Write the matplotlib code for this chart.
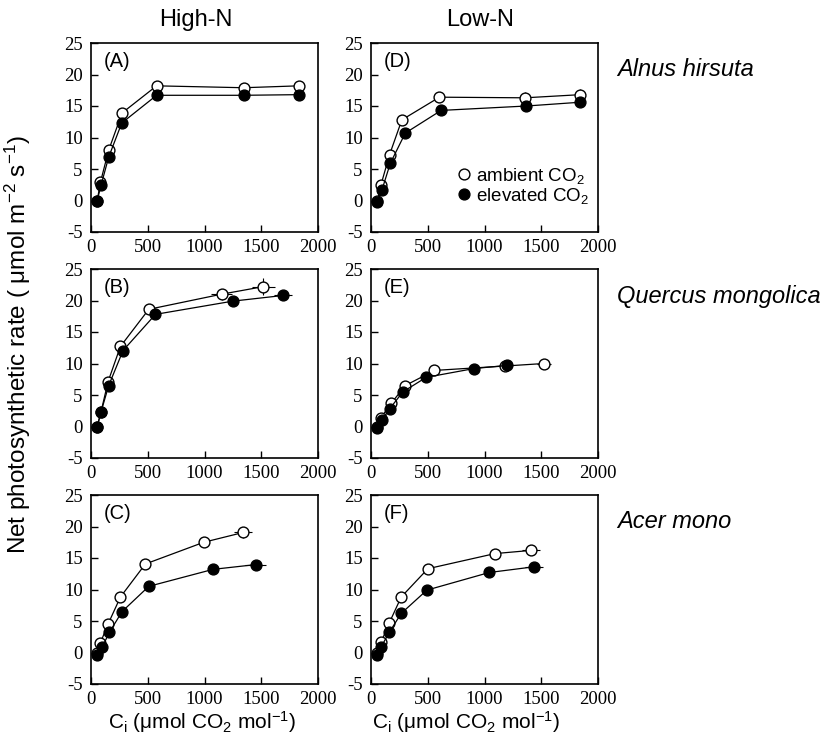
import matplotlib
matplotlib.use("Agg")
import matplotlib.pyplot as plt
from matplotlib.lines import Line2D

plt.rcParams['axes.unicode_minus'] = False
plt.rcParams['mathtext.fontset'] = 'custom'
plt.rcParams['mathtext.rm'] = 'Liberation Sans'
plt.rcParams['mathtext.it'] = 'Liberation Sans:italic'
plt.rcParams['mathtext.default'] = 'regular'
plt.rcParams['font.family'] = ['Liberation Sans', 'DejaVu Sans']

# ---- data (Ci, umol CO2 mol-1 ; A, umol m-2 s-1) ----
# Panel A: Alnus hirsuta, High-N
A_amb_ci = [55, 83, 156, 274, 578, 1345, 1829]
A_amb_a = [0.0, 2.9, 8.0, 13.9, 18.2, 17.9, 18.2]
A_amb_yerr = [0.2, 0.3, 0.3, 0.4, 0.5, 0.8, 0.6]
A_amb_xerr = [2, 5, 8, 10, 15, 30, 30]
A_ele_ci = [53, 88, 156, 271, 578, 1345, 1829]
A_ele_a = [-0.1, 2.4, 6.9, 12.3, 16.7, 16.7, 16.8]
A_ele_yerr = [0.2, 0.3, 0.3, 0.4, 0.4, 0.4, 0.6]
A_ele_xerr = [2, 5, 8, 10, 15, 30, 30]

# Panel D: Alnus hirsuta, Low-N
D_amb_ci = [55, 88, 164, 272, 603, 1356, 1845]
D_amb_a = [-0.1, 2.5, 7.3, 12.8, 16.4, 16.3, 16.8]
D_amb_yerr = [0.2, 0.3, 0.3, 0.4, 0.7, 0.9, 0.9]
D_amb_xerr = [2, 5, 8, 10, 15, 30, 30]
D_ele_ci = [53, 97, 170, 302, 618, 1370, 1845]
D_ele_a = [-0.3, 1.7, 5.9, 10.7, 14.3, 15.0, 15.6]
D_ele_yerr = [0.2, 0.3, 0.3, 0.4, 0.4, 0.4, 0.5]
D_ele_xerr = [2, 5, 8, 10, 15, 30, 30]

# Panel B: Quercus mongolica, High-N
B_amb_ci = [55, 88, 150, 259, 509, 1150, 1518]
B_amb_a = [0.0, 2.3, 7.1, 12.7, 18.6, 21.0, 22.2]
B_amb_yerr = [0.2, 0.3, 0.3, 0.4, 0.8, 0.9, 1.4]
B_amb_xerr = [2, 5, 8, 10, 20, 90, 100]
B_ele_ci = [53, 88, 156, 282, 568, 1250, 1694]
B_ele_a = [-0.1, 2.3, 6.5, 12.05, 17.8, 19.9, 20.8]
B_ele_yerr = [0.2, 0.3, 0.3, 0.4, 0.4, 0.4, 0.4]
B_ele_xerr = [2, 5, 8, 10, 15, 40, 80]

# Panel E: Quercus mongolica, Low-N
E_amb_ci = [55, 88, 179, 302, 559, 1180, 1526]
E_amb_a = [-0.1, 1.4, 3.7, 6.5, 8.9, 9.6, 10.0]
E_amb_yerr = [0.2, 0.2, 0.3, 0.3, 0.4, 0.4, 0.4]
E_amb_xerr = [2, 5, 8, 10, 15, 40, 60]
E_ele_ci = [53, 97, 164, 281, 486, 908, 1200]
E_ele_a = [-0.2, 1.0, 2.8, 5.5, 7.8, 9.2, 9.7]
E_ele_yerr = [0.2, 0.2, 0.3, 0.3, 0.4, 0.4, 0.4]
E_ele_xerr = [2, 5, 8, 10, 15, 30, 40]

# Panel C: Acer mono, High-N
C_amb_ci = [55, 82, 150, 259, 479, 994, 1341]
C_amb_a = [-0.1, 1.5, 4.5, 8.8, 14.05, 17.5, 19.05]
C_amb_yerr = [0.2, 0.2, 0.3, 0.4, 0.5, 0.8, 0.8]
C_amb_xerr = [2, 5, 8, 10, 15, 30, 80]
C_ele_ci = [53, 97, 162, 274, 509, 1076, 1450]
C_ele_a = [-0.35, 0.8, 3.2, 6.5, 10.5, 13.2, 13.95]
C_ele_yerr = [0.2, 0.2, 0.3, 0.4, 0.4, 0.4, 0.4]
C_ele_xerr = [2, 5, 8, 10, 15, 30, 90]

# Panel F: Acer mono, Low-N
F_amb_ci = [55, 88, 161, 266, 501, 1092, 1406]
F_amb_a = [-0.1, 1.6, 4.7, 8.8, 13.3, 15.7, 16.2]
F_amb_yerr = [0.2, 0.2, 0.3, 0.4, 0.5, 0.8, 0.6]
F_amb_xerr = [2, 5, 8, 10, 15, 30, 80]
F_ele_ci = [53, 91, 161, 266, 492, 1042, 1435]
F_ele_a = [-0.35, 0.95, 3.2, 6.2, 9.9, 12.7, 13.6]
F_ele_yerr = [0.2, 0.2, 0.3, 0.4, 0.4, 0.4, 0.4]
F_ele_xerr = [2, 5, 8, 10, 15, 30, 80]

panel_letters = ['(A)', '(B)', '(C)', '(D)', '(E)', '(F)']
col_titles = ['High-N', 'Low-N']
species = ['Alnus hirsuta', 'Quercus mongolica', 'Acer mono']
x_ticks = [0, 500, 1000, 1500, 2000]
y_ticks = [-5, 0, 5, 10, 15, 20, 25]
legend_labels = ['ambient CO$_2$', 'elevated CO$_2$']

panels = {
    (0, 0): (A_amb_ci, A_amb_a, A_amb_xerr, A_amb_yerr, A_ele_ci, A_ele_a, A_ele_xerr, A_ele_yerr),
    (1, 0): (B_amb_ci, B_amb_a, B_amb_xerr, B_amb_yerr, B_ele_ci, B_ele_a, B_ele_xerr, B_ele_yerr),
    (2, 0): (C_amb_ci, C_amb_a, C_amb_xerr, C_amb_yerr, C_ele_ci, C_ele_a, C_ele_xerr, C_ele_yerr),
    (0, 1): (D_amb_ci, D_amb_a, D_amb_xerr, D_amb_yerr, D_ele_ci, D_ele_a, D_ele_xerr, D_ele_yerr),
    (1, 1): (E_amb_ci, E_amb_a, E_amb_xerr, E_amb_yerr, E_ele_ci, E_ele_a, E_ele_xerr, E_ele_yerr),
    (2, 1): (F_amb_ci, F_amb_a, F_amb_xerr, F_amb_yerr, F_ele_ci, F_ele_a, F_ele_xerr, F_ele_yerr),
}

W, H = 827, 747
fig = plt.figure(figsize=(W / 100, H / 100), dpi=100)

col_left = [91, 371]
row_top = [43, 269, 495]
aw, ah = 227, 189

serif = 'Liberation Serif'
axes = {}
for (r, c), data in panels.items():
    ax = fig.add_axes([col_left[c] / W, 1 - (row_top[r] + ah) / H, aw / W, ah / H])
    axes[(r, c)] = ax
    aci, aa, axe, aye, eci, ea, exe, eye = data
    ax.errorbar(aci, aa, xerr=axe, yerr=aye, fmt='-o', color='black', mfc='white',
                mec='black', ms=7.8, mew=1.0, lw=0.9, elinewidth=0.8, capsize=0, zorder=3)
    ax.errorbar(eci, ea, xerr=exe, yerr=eye, fmt='-o', color='black', mfc='black',
                mec='black', ms=7.8, mew=1.0, lw=0.9, elinewidth=0.8, capsize=0, zorder=4)
    ax.set_xlim(0, 2000)
    ax.set_ylim(-5, 25)
    ax.set_xticks(x_ticks)
    ax.set_yticks(y_ticks)
    ax.tick_params(direction='in', length=5, width=1, top=False, right=False,
                   labelsize=13.5)
    ax.tick_params(axis='y', pad=6)
    ax.tick_params(axis='x', pad=5)
    for lab in ax.get_xticklabels() + ax.get_yticklabels():
        lab.set_fontfamily(serif)
    for s in ax.spines.values():
        s.set_linewidth(1.2)
    ax.text(0.055, 0.9, panel_letters[c * 3 + r], transform=ax.transAxes,
            fontsize=14.5, ha='left', va='center')

# legend in panel D
h_amb = Line2D([], [], marker='o', ls='none', mfc='white', mec='black', ms=7.8, mew=1.0)
h_ele = Line2D([], [], marker='o', ls='none', mfc='black', mec='black', ms=7.8, mew=1.0)
axes[(0, 1)].legend([h_amb, h_ele], legend_labels, loc='lower right',
                    bbox_to_anchor=(1.0, 0.09), frameon=False, fontsize=13.5,
                    handletextpad=0.1, labelspacing=0.0, handlelength=1.0,
                    borderaxespad=0.1)

# column titles
fig.text(196 / W, 1 - 20 / H, col_titles[0], fontsize=17, ha='center', va='center')
fig.text(480 / W, 1 - 20 / H, col_titles[1], fontsize=17, ha='center', va='center')

# species labels
for r, sp in enumerate(species):
    fig.text(617 / W, 1 - (row_top[r] + 27) / H, sp, fontsize=17, style='italic',
             ha='left', va='center')

# axis labels
fig.text(18 / W, 1 - 345 / H, 'Net photosynthetic rate ( \u03bcmol m$^{-2}$ s$^{-1}$)',
         rotation=90, fontsize=17.5, ha='center', va='center')
for c, xc in enumerate([202, 466]):
    fig.text(xc / W, 1 - 722 / H, 'C$_{i}$ (\u03bcmol CO$_2$ mol$^{-1}$)',
             fontsize=15, ha='center', va='center')

fig.savefig('out.png', dpi=100)
